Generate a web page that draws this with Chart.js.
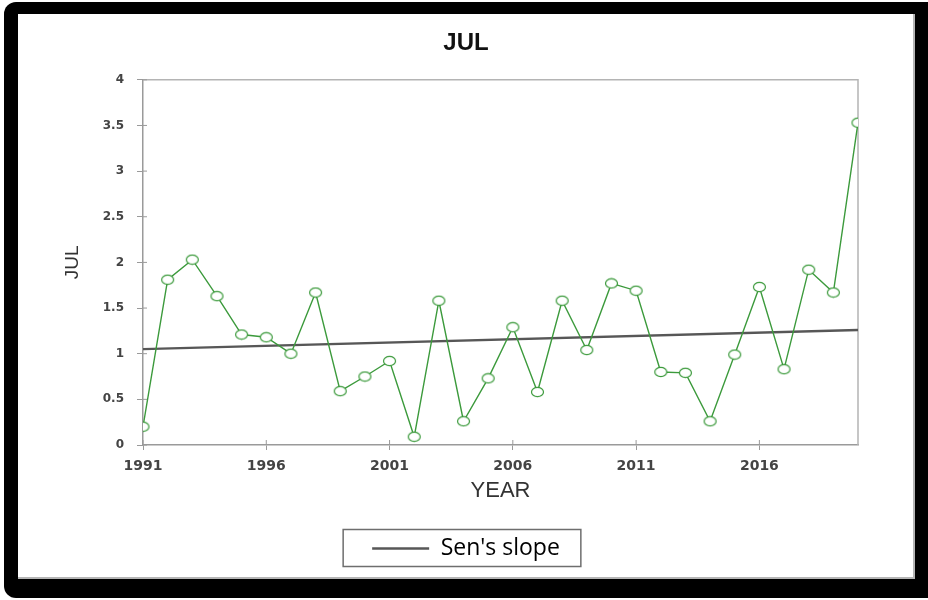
<!DOCTYPE html>
<html>
<head>
<meta charset="utf-8">
<script src="https://cdn.jsdelivr.net/npm/chart.js@4.4.1/dist/chart.umd.min.js"></script>
<style>
  html, body { margin: 0; padding: 0; width: 928px; height: 600px; overflow: hidden; background: #ffffff; }
  #frame { position: absolute; left: 4px; top: 2px; width: 940px; height: 596px; background: #000; border-radius: 12px; }
  #sheet { position: absolute; left: 18px; top: 14px; width: 895px; height: 563px; background: #fff;
           border-right: 2px solid #b5b5b5; border-bottom: 2px solid #b5b5b5; }
  #chart { position: absolute; left: 18px; top: 14px; }
</style>
</head>
<body>
<div id="frame"></div>
<div id="sheet"></div>
<canvas id="chart" width="896" height="564"></canvas>
<script>
// Monthly index for July, 1991-2020
const years = [1991, 1992, 1993, 1994, 1995, 1996, 1997, 1998, 1999, 2000,
               2001, 2002, 2003, 2004, 2005, 2006, 2007, 2008, 2009, 2010,
               2011, 2012, 2013, 2014, 2015, 2016, 2017, 2018, 2019, 2020];
const julValues = [0.20, 1.81, 2.03, 1.63, 1.21, 1.18, 1.00, 1.67, 0.59, 0.75,
                   0.92, 0.09, 1.58, 0.26, 0.73, 1.29, 0.58, 1.58, 1.04, 1.77,
                   1.69, 0.80, 0.79, 0.26, 0.99, 1.73, 0.83, 1.92, 1.67, 3.53];

// Sen's slope trend line, given by its two end points
const senYears = [1991, 2020];
const senValues = [1.05, 1.26];

// Axis tick positions
const xTickYears = [1991, 1996, 2001, 2006, 2011, 2016];
const yMin = 0, yMax = 4, yStep = 0.5;

const GREEN = '#3c9a3c';
const AXIS = '#9a9a9a';

// Open elliptical marker
function makeMarker() {
  const c = document.createElement('canvas');
  c.width = 15; c.height = 12;
  const g = c.getContext('2d');
  g.beginPath();
  g.ellipse(7.5, 6, 6.0, 4.6, 0, 0, Math.PI * 2);
  g.fillStyle = '#ffffff';
  g.fill();
  g.lineWidth = 1.2;
  g.strokeStyle = GREEN;
  g.stroke();
  return c;
}
const marker = makeMarker();

// Plot frame (top/right), inward halves of tick marks, and the legend's box
const framePlugin = {
  id: 'framePlugin',
  beforeDatasetsDraw(chart) {
    const { ctx, chartArea: a } = chart;
    const xs = chart.scales.x, ys = chart.scales.y;
    ctx.save();
    ctx.strokeStyle = '#b4b4b4';
    ctx.lineWidth = 1.5;
    ctx.beginPath();
    ctx.moveTo(a.left, a.top);
    ctx.lineTo(a.right, a.top);
    ctx.lineTo(a.right, a.bottom);
    ctx.stroke();
    ctx.strokeStyle = AXIS;
    ctx.lineWidth = 1;
    ctx.beginPath();
    ys.ticks.forEach(t => {
      const y = ys.getPixelForValue(t.value);
      ctx.moveTo(a.left, y);
      ctx.lineTo(a.left + 4, y);
    });
    xs.ticks.forEach(t => {
      const x = xs.getPixelForValue(t.value);
      ctx.moveTo(x, a.bottom);
      ctx.lineTo(x, a.bottom - 5);
    });
    ctx.stroke();
    ctx.restore();
  },
  afterDraw(chart) {
    const hb = chart.legend && chart.legend.legendHitBoxes && chart.legend.legendHitBoxes[0];
    if (!hb) return;
    const { ctx } = chart;
    const yc = hb.top + hb.height / 2;
    ctx.save();
    ctx.strokeStyle = '#6e6e6e';
    ctx.lineWidth = 1.5;
    ctx.strokeRect(hb.left - 29, yc - 19, hb.width + 50, 37);
    ctx.restore();
  }
};

new Chart(document.getElementById('chart'), {
  type: 'line',
  data: {
    datasets: [
      {
        label: 'JUL',
        data: years.map((yr, i) => ({ x: yr, y: julValues[i] })),
        borderColor: GREEN,
        borderWidth: 1.4,
        pointStyle: marker,
        pointRadius: 6,
        pointHoverRadius: 6,
        tension: 0,
        order: 1
      },
      {
        label: "Sen's slope",
        data: senYears.map((yr, i) => ({ x: yr, y: senValues[i] })),
        borderColor: '#575757',
        borderWidth: 2.4,
        pointRadius: 0,
        tension: 0,
        order: 2
      }
    ]
  },
  options: {
    responsive: false,
    animation: false,
    events: [],
    layout: { padding: { left: 0, right: 0, top: 0, bottom: 8 } },
    plugins: {
      tooltip: { enabled: false },
      title: {
        display: true,
        text: 'JUL',
        color: '#111111',
        font: { family: 'Liberation Sans, Arial, sans-serif', size: 24, weight: 'bold' },
        padding: { top: 15, bottom: 22 }
      },
      legend: {
        position: 'bottom',
        labels: {
          color: '#333333',
          font: { family: 'Open Sans, sans-serif', size: 23 },
          boxWidth: 57,
          boxHeight: 2.5,
          padding: 10,
          generateLabels: () => [{
            text: "Sen's slope",
            fillStyle: '#575757',
            strokeStyle: '#575757',
            lineWidth: 0,
            hidden: false,
            datasetIndex: 1
          }]
        }
      }
    },
    scales: {
      x: {
        type: 'linear',
        min: years[0],
        max: years[years.length - 1],
        afterBuildTicks: s => { s.ticks = xTickYears.map(v => ({ value: v })); },
        afterFit: s => { s.height = 82; },
        border: { display: true, color: AXIS, width: 1.5 },
        grid: { drawOnChartArea: false, drawTicks: true, tickLength: 5, color: AXIS },
        ticks: {
          color: '#444444',
          padding: 8,
          maxRotation: 0,
          autoSkip: false,
          font: { family: 'DejaVu Sans, sans-serif', size: 14, weight: 'bold' },
          callback: v => String(v)
        },
        title: {
          display: true,
          text: 'YEAR',
          color: '#333333',
          font: { family: 'Liberation Sans, Arial, sans-serif', size: 22 },
          padding: { top: 4, bottom: 23 }
        }
      },
      y: {
        type: 'linear',
        position: 'left',
        min: yMin,
        max: yMax,
        afterFit: s => { s.width = 125; },
        border: { display: true, color: AXIS, width: 1.5 },
        grid: { drawOnChartArea: false, drawTicks: true, tickLength: 6, color: AXIS },
        ticks: {
          stepSize: yStep,
          color: '#444444',
          padding: 13,
          font: { family: 'DejaVu Sans, sans-serif', size: 12, weight: 'bold' },
          callback: v => String(v)
        },
        title: {
          display: true,
          text: 'JUL',
          color: '#333333',
          font: { family: 'Liberation Sans, Arial, sans-serif', size: 19 },
          padding: { top: 43, bottom: 0 }
        }
      },
      right: {
        type: 'linear',
        position: 'right',
        min: yMin,
        max: yMax,
        afterFit: s => { s.width = 56; },
        border: { display: false },
        grid: { display: false, drawTicks: false },
        ticks: { display: false },
        title: { display: false }
      }
    }
  },
  plugins: [framePlugin]
});
</script>
</body>
</html>
